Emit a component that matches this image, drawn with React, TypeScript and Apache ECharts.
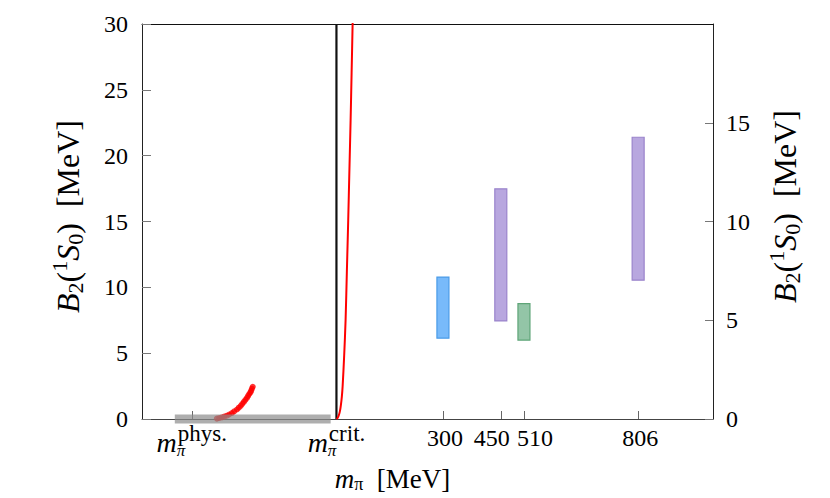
import React, { useEffect, useRef } from 'react';
import * as echarts from 'echarts';

// ---------- data ----------
const X_MIN = -480;
const X_MAX = 1000;
const Y_MAX = 30;
const Y_INTERVAL = 5;
const Y2_MAX = 20;
const Y2_INTERVAL = 5;
const Y2_TICKS = [0, 5, 10, 15];

const PHYS_X = -351;
const CRIT_X = 24;
const numericTicks = [300, 450, 510, 806];
const xTickValues = [PHYS_X, CRIT_X, ...numericTicks];

// lattice bands (floating boxes)
const barMasses = [300, 450, 510, 806];
const barLow = [6.14, 7.45, 5.99, 10.54];
const barHigh = [10.78, 17.48, 8.76, 21.4];
const barFill = ['rgba(105,178,250,0.9)', 'rgba(172,152,217,0.85)', 'rgba(128,187,152,0.85)', 'rgba(172,152,217,0.85)'];
const barStroke = ['#4a9be8', '#9a84cc', '#5fa578', '#9a84cc'];

// grey band along the axis
const bandX = [-395, 9];
const bandY = [0, 0];

// vertical line at critical pion mass
const critLineX = [24, 24];
const critLineY = [0, 30];

// red dots (chiral EFT points)
const dotX = [-286, -280, -273, -267, -260, -254, -247, -241, -234, -229, -224, -220, -216, -212, -208, -205, -202, -199, -197, -195, -193];
const dotY = [0.03, 0.07, 0.12, 0.18, 0.25, 0.34, 0.45, 0.58, 0.72, 0.86, 1.0, 1.15, 1.3, 1.45, 1.6, 1.75, 1.9, 2.02, 2.15, 2.3, 2.45];

// red curve
const curveX = [24, 27, 30.4, 33, 35.5, 38, 40, 44, 47.7, 51, 54.5, 57.5, 60.7, 63.3, 65.9, 67.5];
const curveY = [0, 0.08, 0.3, 0.6, 1.06, 1.7, 2.48, 4.8, 7.52, 11.2, 15.1, 18.8, 22.7, 26.3, 30, 32.5];

const FONT = 'Liberation Serif';

export default function App() {
  const ref = useRef<HTMLDivElement>(null);
  useEffect(() => {
    if (!ref.current) return;
    const chart = echarts.init(ref.current, undefined, { renderer: 'svg' });

    const zip = (xs: number[], ys: number[]) => xs.map((x, i) => [x, ys[i]]);

    const base = { fontFamily: FONT, color: '#000', lineHeight: 38 };
    const labelRich = {
      m: { ...base, fontStyle: 'italic', fontSize: 28, padding: [8, 0, 0, 0], align: 'left' },
      p: { ...base, fontStyle: 'italic', fontSize: 17, padding: [25, 0, 0, 0], width: 1, align: 'left' },
      s: { ...base, fontSize: 23, padding: [0, 0, 10, 0], align: 'left' },
      n: { ...base, fontSize: 24, padding: [0, 0, 0, 4] },
      nl: { ...base, fontSize: 24, padding: [0, 18, 0, 0] },
      nr: { ...base, fontSize: 24, padding: [0, 0, 0, 22] },
    };

    const mkNameRich = (big: number, small: number, subShift: number) => ({
      i: { fontFamily: FONT, fontStyle: 'italic', fontSize: big, color: '#000' },
      n: { fontFamily: FONT, fontSize: big, color: '#000' },
      sub: { fontFamily: FONT, fontSize: small, padding: [subShift, 0, 0, 0], color: '#000' },
      sup: { fontFamily: FONT, fontSize: small, padding: [0, 0, Math.round(small * 0.8), 0], color: '#000' },
    });

    const yName = '{i|B}{sub|2}{n|(}{sup|1}{i|S}{sub|0}{n|)  [MeV]}';

    const option: any = {
      animation: false,
      backgroundColor: '#fff',
      grid: { left: 142, right: 117, top: 24, bottom: 79, containLabel: false, outerBoundsMode: 'none' },
      xAxis: [
        {
          type: 'value',
          min: X_MIN,
          max: X_MAX,
          position: 'bottom',
          axisLine: { show: true, onZero: false, lineStyle: { color: '#444', width: 1 } },
          axisTick: { show: true, inside: true, length: 8, customValues: xTickValues, lineStyle: { color: '#666' } },
          splitLine: { show: false },
          axisLabel: {
            customValues: xTickValues,
            margin: 0,
            fontFamily: FONT,
            fontSize: 24,
            lineHeight: 38,
            color: '#000',
            rich: labelRich,
            formatter: (v: number) => {
              if (Math.abs(v - PHYS_X) < 0.5) return '{m|m}{p|π}{s|phys.}';
              if (Math.abs(v - CRIT_X) < 0.5) return '{m|m}{p|π}{s|crit.}';
              if (v === 450) return '{nl|450}';
              if (v === 510) return '{nr|510}';
              return '{n|' + String(v) + '}';
            },
          },
          name: '{i|m}{sub|π}{n|  [MeV]}',
          nameLocation: 'middle',
          nameGap: 46,
          nameTextStyle: { rich: mkNameRich(27, 18, 10), padding: [0, 70, 0, 0] },
        },
        {
          type: 'value',
          min: X_MIN,
          max: X_MAX,
          position: 'top',
          axisLine: { show: true, onZero: false, lineStyle: { color: '#111', width: 1 } },
          axisTick: { show: false },
          axisLabel: { show: false },
          splitLine: { show: false },
        },
      ],
      yAxis: [
        {
          type: 'value',
          min: 0,
          max: Y_MAX,
          interval: Y_INTERVAL,
          position: 'left',
          axisLine: { show: true, onZero: false, lineStyle: { color: '#222', width: 1 } },
          axisTick: { show: true, inside: true, length: 9, lineStyle: { color: '#777' } },
          splitLine: { show: false },
          axisLabel: { margin: 14, fontFamily: FONT, fontSize: 24, color: '#000' },
          name: yName,
          nameLocation: 'middle',
          nameGap: 54,
          nameTextStyle: { rich: mkNameRich(32, 22, 15), padding: [0, 0, 0, 10] },
        },
        {
          type: 'value',
          min: 0,
          max: Y2_MAX,
          interval: Y2_INTERVAL,
          position: 'right',
          axisLine: { show: true, onZero: false, lineStyle: { color: '#222', width: 1 } },
          axisTick: { show: true, inside: true, length: 8, customValues: Y2_TICKS, lineStyle: { color: '#777' } },
          splitLine: { show: false },
          axisLabel: {
            margin: 13,
            fontFamily: FONT,
            fontSize: 24,
            color: '#000',
            customValues: Y2_TICKS,
            formatter: (v: number) => String(v),
          },
          name: yName,
          nameLocation: 'middle',
          nameGap: 52,
          nameTextStyle: { rich: mkNameRich(32, 22, 15), padding: [0, 0, 0, 30] },
        },
      ],
      series: [
        {
          name: 'lattice',
          type: 'custom',
          xAxisIndex: 0,
          yAxisIndex: 0,
          data: barMasses.map((m, i) => [m, barLow[i], barHigh[i]]),
          encode: { x: 0, y: [1, 2] },
          renderItem: (params: any, api: any) => {
            const x = api.value(0);
            const lo = api.coord([x, api.value(1)]);
            const hi = api.coord([x, api.value(2)]);
            const w = 12;
            const idx = params.dataIndex;
            return {
              type: 'rect',
              shape: { x: lo[0] - w / 2, y: hi[1], width: w, height: lo[1] - hi[1] },
              style: { fill: barFill[idx], stroke: barStroke[idx], lineWidth: 1.2 },
            };
          },
          z: 2,
        },
        {
          name: 'dots',
          type: 'scatter',
          data: zip(dotX, dotY),
          symbol: 'circle',
          symbolSize: 6,
          itemStyle: { color: '#ff0000' },
          z: 3,
        },
        {
          name: 'band',
          type: 'line',
          data: zip(bandX, bandY),
          symbol: 'none',
          clip: false,
          lineStyle: { color: 'rgba(140,140,140,0.7)', width: 9, cap: 'butt' },
          z: 4,
        },
        {
          name: 'critical',
          type: 'line',
          data: zip(critLineX, critLineY),
          symbol: 'none',
          lineStyle: { color: '#111', width: 2.2 },
          z: 5,
        },
        {
          name: 'curve',
          type: 'line',
          data: zip(curveX, curveY),
          symbol: 'none',
          smooth: 0.3,
          lineStyle: { color: '#ff0000', width: 2 },
          z: 6,
        },
      ],
    };

    chart.setOption(option);
    return () => chart.dispose();
  }, []);

  return <div ref={ref} style={{ position: 'fixed', left: 0, top: 0, width: 830, height: 498 }} />;
}
